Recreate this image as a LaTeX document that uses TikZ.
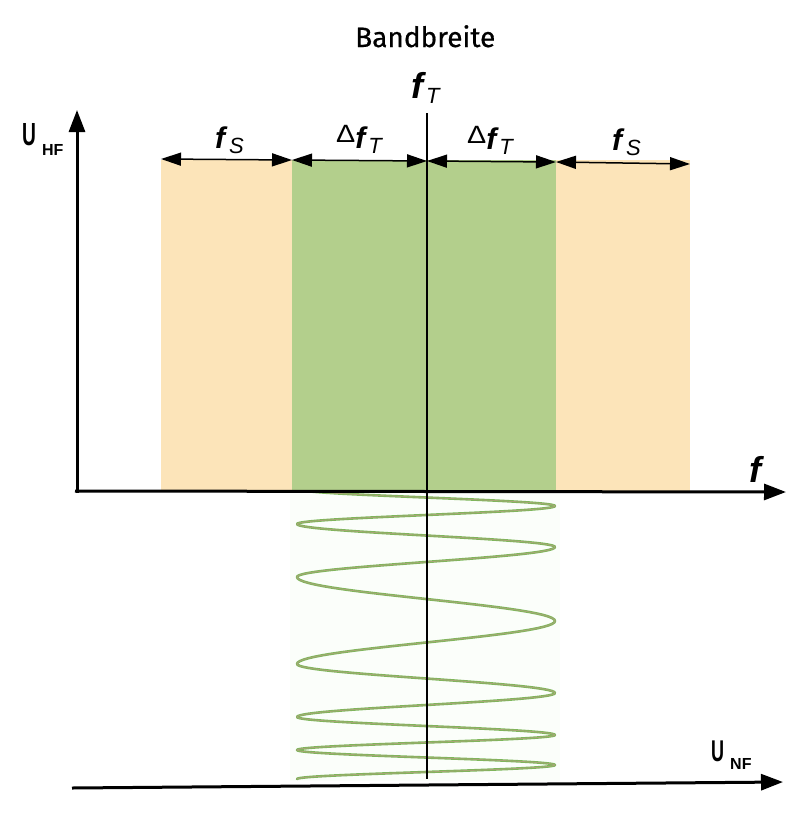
\documentclass[tikz,border=0pt]{standalone}
\usepackage{fontspec}
\setmainfont{Liberation Sans}
\newfontfamily\bandfont[FakeBold=0.6]{Fira Sans}
\newfontfamily\narrowfont[FakeStretch=0.6]{Liberation Sans}
\newfontfamily\widefont[FakeStretch=1.15]{Liberation Sans}
\usetikzlibrary{arrows.meta}
\definecolor{peach}{RGB}{252,228,185}
\definecolor{leaf}{RGB}{179,207,140}
\definecolor{waveout}{RGB}{125,182,90}
\definecolor{wavein}{RGB}{168,166,118}
\definecolor{waveback}{RGB}{251,254,250}
\newcommand{\fbig}[1]{{\fontsize{#1}{#1}\selectfont\bfseries\itshape f}}
\newcommand{\subt}[1]{\raisebox{-5pt}{\fontsize{22}{22}\selectfont\itshape #1}}
\newcommand{\deltasym}{\raisebox{6pt}{\fontsize{25}{25}\selectfont\widefont Δ}}
\begin{document}
\begin{tikzpicture}[x=1pt,y=-1pt,
  axis/.style={line width=3pt,-{Triangle[length=22pt,width=16pt]}},
  dimarrow/.style={line width=1.5pt,{Triangle[length=20pt,width=13pt]}-{Triangle[length=20pt,width=13pt]}},
  lbl/.style={inner sep=0pt,anchor=base west}]
\useasboundingbox (0,0) rectangle (807,820);
% bands
\fill[peach] (161,160) rectangle (292,491);
\fill[leaf] (292,160) rectangle (556,491);
\fill[peach] (556,160) rectangle (690,491);
\fill[waveback] (290,493) rectangle (560,781);
% wave
\begin{scope}
\clip (280,493) rectangle (580,800);
\foreach \ya/\yb/\s in {489/506/-1,506/524/1,524/547/-1,547/577/1,577/621/-1,621/664/1,664/693/-1,693/717/1,717/735/-1,735/750/1,750/765/-1,765/779/1}{
  \draw[waveout,line width=2.6pt,line cap=round] plot[domain=0:180,samples=30,variable=\t] ({426+\s*129*cos(\t)},{\ya+(\yb-\ya)*\t/180});
}
\foreach \ya/\yb/\s in {489/506/-1,506/524/1,524/547/-1,547/577/1,577/621/-1,621/664/1,664/693/-1,693/717/1,717/735/-1,735/750/1,750/765/-1,765/779/1}{
  \draw[wavein,line width=0.9pt,line cap=round] plot[domain=0:180,samples=30,variable=\t] ({426+\s*129*cos(\t)},{\ya+(\yb-\ya)*\t/180});
}
\end{scope}
% center line
\coordinate (ct) at (427,113);
\coordinate (cm) at (427,491);
\coordinate (cb) at (427,779);
\draw[line width=1.6pt] (ct) -- (cm);
\draw[line width=2.8pt] (cm) -- (cb);
% axes
\coordinate (o) at (77,493);
\coordinate (ytop) at (77,110);
\coordinate (xl) at (75,491);
\coordinate (xr) at (786,492);
\coordinate (nl) at (72,788);
\coordinate (nr) at (783,782);
\draw[axis] (o) -- (ytop);
\draw[axis] (xl) -- (xr);
\draw[axis] (nl) -- (nr);
% dimension arrows
\coordinate (d0) at (161,159);
\coordinate (d1) at (292,160);
\coordinate (d2) at (427,161);
\coordinate (d3) at (556,162);
\coordinate (d4) at (690,164);
\draw[dimarrow] (d0) -- (d1);
\draw[dimarrow] (d1) -- (d2);
\draw[dimarrow] (d2) -- (d3);
\draw[dimarrow] (d3) -- (d4);
% labels
\node[lbl,font=\bandfont\fontsize{28}{28}\selectfont] (bw) at (355,47) {Bandbreite};
\node[lbl] (fT) at (411,98) {\fbig{36}\hspace{3pt}\subt{T}};
\node[lbl] (fs1) at (215,148) {\fbig{30}\hspace{4pt}\subt{S}};
\node[lbl] (dfT1) at (336,148) {\deltasym\fbig{30}\hspace{3pt}\subt{T}};
\node[lbl] (dfT2) at (467,149) {\deltasym\fbig{30}\hspace{3pt}\subt{T}};
\node[lbl] (fs2) at (612,150) {\fbig{30}\hspace{4pt}\subt{S}};
\node[lbl] (faxis) at (749,482) {\fbig{36}};
\node[lbl] (uhf) at (22,145) {{\fontsize{32}{32}\selectfont\narrowfont\bfseries U}\hspace{6pt}\raisebox{-10pt}{\fontsize{16}{16}\selectfont\bfseries HF}};
\node[lbl] (unf) at (711,761) {{\fontsize{30}{30}\selectfont\narrowfont\bfseries U}\hspace{6pt}\raisebox{-8pt}{\fontsize{16}{16}\selectfont\bfseries NF}};
\end{tikzpicture}
\end{document}
